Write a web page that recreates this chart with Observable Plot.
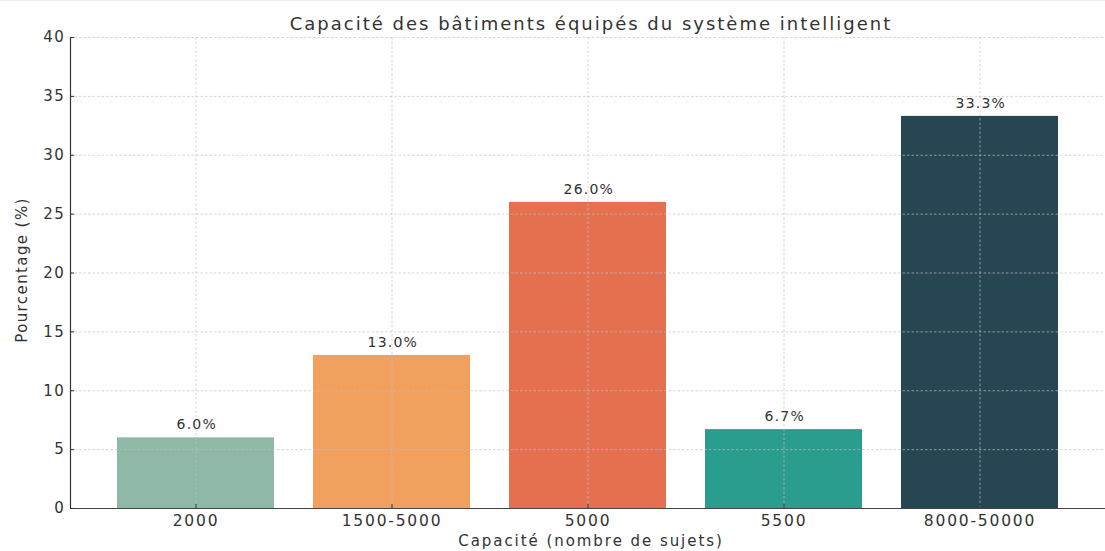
<!DOCTYPE html>
<html>
<head>
<meta charset="utf-8">
<script src="https://cdn.jsdelivr.net/npm/d3@7"></script>
<script src="https://cdn.jsdelivr.net/npm/@observablehq/plot@0.6"></script>
<style>
  html, body { margin: 0; padding: 0; background: #fff; }
  #chart { width: 1105px; height: 551px; overflow: hidden; border-top: 1px solid #ececec; box-sizing: border-box; }
  #chart g[aria-label="y-axis tick label"] text { letter-spacing: 1.3px; }
  #chart g[aria-label="x-axis tick label"] text { letter-spacing: 1.8px; }
</style>
</head>
<body>
<div id="chart"></div>
<script>
const categories = ["2000", "1500-5000", "5000", "5500", "8000-50000"];
const percentages = [6.0, 13.0, 26.0, 6.7, 33.3];
const barColors = ["#8fb8a6", "#f1a05e", "#e4704f", "#2a9d8f", "#264653"];
const yTicks = [0, 5, 10, 15, 20, 25, 30, 35, 40];
const titleText = "Capacité des bâtiments équipés du système intelligent";
const xLabel = "Capacité (nombre de sujets)";
const yLabel = "Pourcentage (%)";

const data = categories.map((c, i) => ({cat: c, pct: percentages[i], color: barColors[i]}));

const font = "DejaVu Sans";
const gridStyle = {stroke: "#c0c0c0", strokeDasharray: "2.5,2", strokeOpacity: 0.75, strokeWidth: 0.9};

const chart = Plot.plot({
  width: 1105,
  height: 550,
  marginLeft: 70,
  marginRight: 0,
  marginTop: 36,
  marginBottom: 43,
  style: {fontFamily: font, fontSize: "15px", color: "#333", background: "white", overflow: "visible"},
  x: {domain: categories, range: [67.5, 1107.5], paddingInner: 0.2, paddingOuter: 0.24, label: null},
  y: {domain: [0, 40], label: null},
  marks: [
    Plot.barY(data, {x: "cat", y: "pct", fill: "color"}),
    Plot.gridY(yTicks, gridStyle),
    Plot.gridX(categories, gridStyle),
    Plot.ruleY([0], {stroke: "#444", strokeWidth: 1.2}),
    Plot.frame({anchor: "left", stroke: "#333", strokeWidth: 1.2}),
    Plot.axisY(yTicks, {tickSize: -4, tickPadding: 9.5, fontSize: 15, label: null, stroke: "#333", fill: "#333"}),
    Plot.axisX(categories, {tickSize: -4, tickPadding: 10, fontSize: 15.5, label: null, stroke: "#333", fill: "#333"}),
    Plot.text(data, {x: "cat", y: "pct", text: d => d.pct.toFixed(1) + "%", dy: -13, dx: 0.8, fontSize: 14, fill: "#333"}),
    Plot.text([titleText], {frameAnchor: "top", dy: -20, dx: 3, fontSize: 18, fill: "#333"}),
    Plot.text([xLabel], {frameAnchor: "bottom", dy: 37, dx: 3, fontSize: 15, fill: "#333"}),
    Plot.text([yLabel], {frameAnchor: "left", dx: -48, dy: -3, rotate: -90, textAnchor: "middle", fontSize: 15, fill: "#333"})
  ]
});

// widen the lettering to match the reference's wide typography
const spacing = new Map([[titleText, 2.0], [xLabel, 1.95], [yLabel, 1.4]]);
d3.select(chart).selectAll("text").each(function () {
  const t = this.textContent;
  if (spacing.has(t)) this.style.letterSpacing = spacing.get(t) + "px";
  else if (t.endsWith("%") && t !== yLabel) this.style.letterSpacing = "1.2px";
});

document.getElementById("chart").appendChild(chart);
</script>
</body>
</html>
